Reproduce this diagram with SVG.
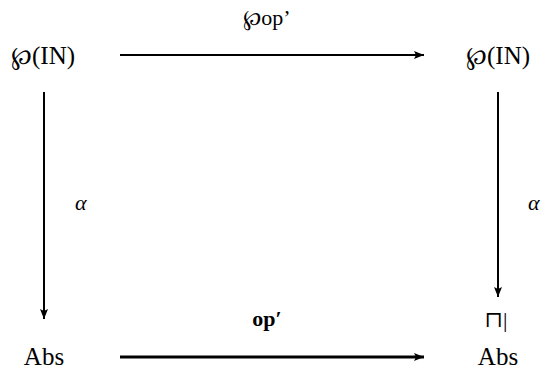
<svg xmlns="http://www.w3.org/2000/svg" width="545" height="374" viewBox="0 0 545 374">
<style>
text{font-family:"Liberation Serif","DejaVu Serif",serif;fill:#000;font-size:22px}
.n{font-size:25px}
.c{text-anchor:middle}
.it{font-style:italic}
.b{font-weight:bold}
.ln{stroke:#000;fill:none}
</style>
<defs>
<marker id="ah" viewBox="0 0 10 8" refX="10" refY="4" markerWidth="10" markerHeight="8" markerUnits="userSpaceOnUse" orient="auto">
<path d="M0,0 L10,4 L0,8 L2,4 Z" fill="#000"/>
</marker>
</defs>
<rect width="545" height="374" fill="#fff"/>
<g id="connectors">
<line class="ln" x1="120" y1="55" x2="424" y2="55" stroke-width="2" marker-end="url(#ah)"/>
<line class="ln" x1="120" y1="357" x2="424" y2="357" stroke-width="3" marker-end="url(#ah)"/>
<line class="ln" x1="44" y1="92" x2="44" y2="319" stroke-width="2" marker-end="url(#ah)"/>
<line class="ln" x1="498" y1="92" x2="498" y2="297" stroke-width="2" marker-end="url(#ah)"/>
<text class="c" x="267" y="25">℘op’</text>
<text class="c b" x="267" y="326">op′</text>
<text class="it" x="75" y="210">α</text>
<text class="it" x="528" y="210">α</text>
<text class="c" x="496" y="327" font-size="19" font-family="DejaVu Sans, sans-serif">⊓|</text>
</g>
<g id="pn-left"><text class="c n" x="43" y="64">℘(IN)</text></g>
<g id="pn-right"><text class="c n" x="498" y="64">℘(IN)</text></g>
<g id="abs-left"><text class="c n" x="44" y="365">Abs</text></g>
<g id="abs-right"><text class="c n" x="498" y="365">Abs</text></g>
</svg>
